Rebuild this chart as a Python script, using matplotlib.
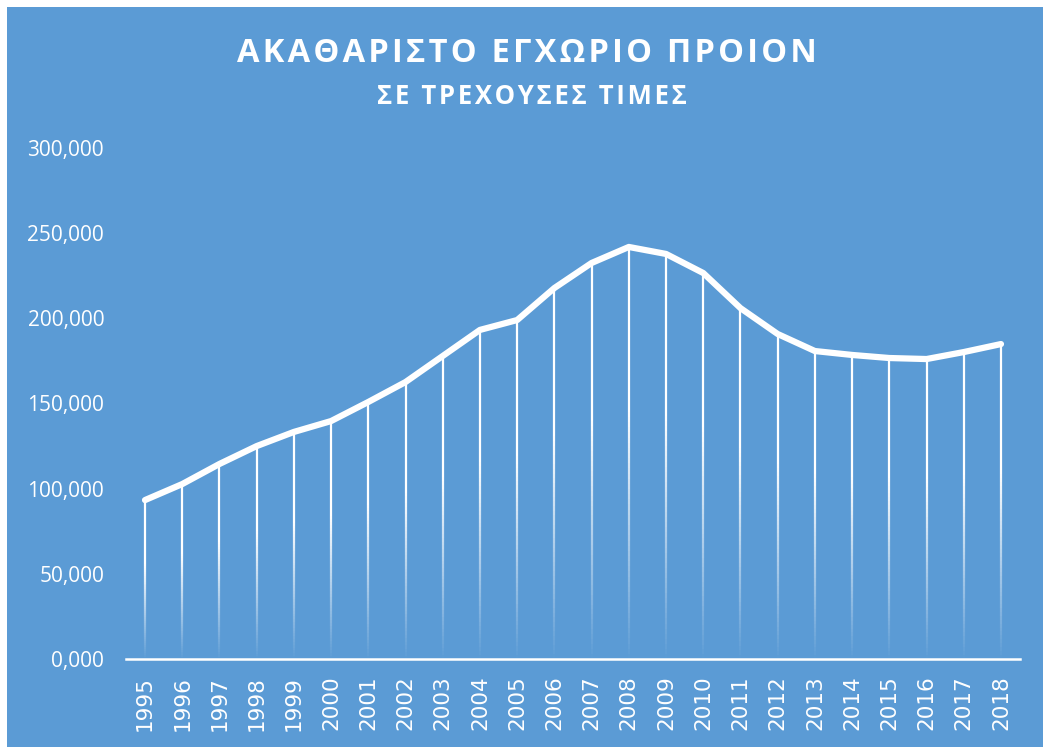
import numpy as np
import matplotlib
matplotlib.use('Agg')
import matplotlib.pyplot as plt
from matplotlib import patches
from matplotlib.collections import LineCollection
from matplotlib.ticker import FuncFormatter

# data (billion euro)
years = [str(y) for y in range(1995, 2019)]
gdp = [93.3, 102.7, 114.5, 125.0, 133.3, 139.7, 150.9, 162.6, 177.9, 193.2,
       199.0, 217.8, 232.5, 241.9, 237.8, 226.6, 206.0, 190.8, 180.8, 178.5,
       176.7, 176.1, 180.2, 184.9]
title = 'ΑΚΑΘΑΡΙΣΤΟ ΕΓΧΩΡΙΟ ΠΡΟΙΟΝ'
subtitle = 'ΣΕ ΤΡΕΧΟΥΣΕΣ ΤΙΜΕΣ'

BLUE = '#5b9bd5'
W, H = 1043, 747

fig = plt.figure(figsize=(W / 100, H / 100), dpi=100, facecolor='white')
# blue chart area, white strip at top and left
fig.patches.append(patches.Rectangle((7 / W, -0.1), 1.2, 1.1 - 7 / H, transform=fig.transFigure,
                                     facecolor=BLUE, edgecolor='none', zorder=-5))

ax = fig.add_axes([126.4 / W, 1 - 659 / H, (1019.6 - 126.4) / W, (659 - 148) / H])
ax.set_facecolor('none')
x = np.arange(len(years))

# drop lines, white at the top fading out toward the axis
segs, cols = [], []
n = 80
for xi, v in zip(x, gdp):
    ys = np.linspace(0, v, n + 1)
    for k in range(n):
        segs.append([(xi, ys[k]), (xi, ys[k + 1])])
        frac = (k + 0.5) / n
        cols.append((1, 1, 1, min(1.0, frac / 0.6)))
ax.add_collection(LineCollection(segs, colors=cols, linewidths=1.6, capstyle='butt', zorder=2))

ax.plot(x, gdp, color='white', lw=4.5, solid_capstyle='round', solid_joinstyle='round', zorder=3)

ax.set_xlim(-0.5, len(years) - 0.5)
ax.set_ylim(0, 300)
ax.set_yticks(np.arange(0, 301, 50))
ax.yaxis.set_major_formatter(FuncFormatter(lambda v, p: f'{v:.3f}'.replace('.', ',')))
ax.set_xticks(x)
ax.set_xticklabels(years, rotation=90, family='DejaVu Sans', fontsize=15.5, color='white')
for lab in ax.get_yticklabels():
    lab.set_family('Open Sans')
    lab.set_fontsize(15)
    lab.set_color('white')
ax.tick_params(axis='y', length=0, pad=16)
ax.tick_params(axis='x', length=0, pad=12)

for s in ['top', 'right', 'left']:
    ax.spines[s].set_visible(False)
ax.spines['bottom'].set_color('white')
ax.spines['bottom'].set_linewidth(1.8)
ax.spines['bottom'].set_zorder(4)

spaced = lambda s: '\u200a'.join(s)
fig.text(527 / W, 1 - 53 / H, spaced(title), ha='center', va='center', color='white',
         fontsize=23.5, fontweight='bold', family=['Open Sans', 'DejaVu Sans'])
fig.text(532 / W, 1 - 97 / H, spaced(subtitle), ha='center', va='center', color='white',
         fontsize=18.5, fontweight='bold', family=['Open Sans', 'DejaVu Sans'])

fig.savefig('out.png', dpi=100, facecolor='white')
